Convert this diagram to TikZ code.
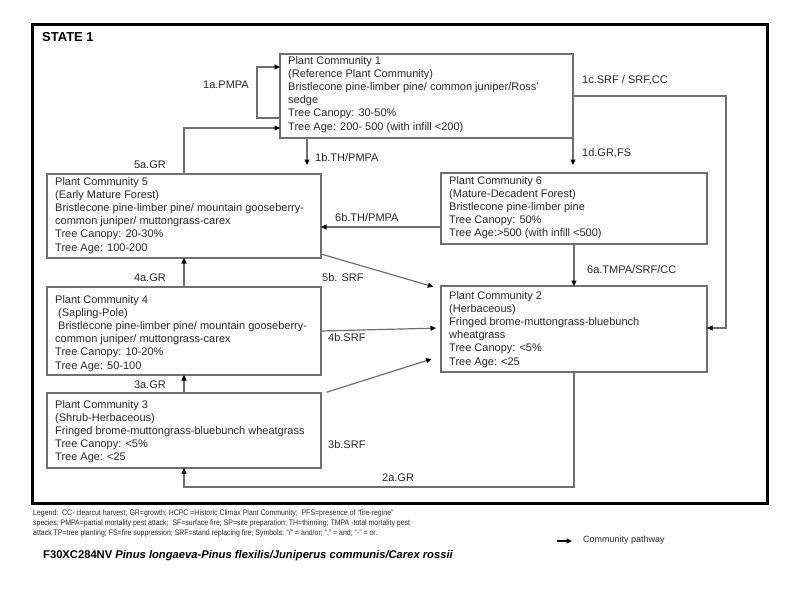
\documentclass[tikz,border=0pt]{standalone}
\usepackage{fontspec}
\setmainfont{Liberation Sans}
\newfontfamily\legendfont[FakeStretch=0.87]{Liberation Sans}
\usetikzlibrary{arrows.meta,calc}
\definecolor{linegray}{RGB}{112,112,112}
\definecolor{textgray}{RGB}{40,40,40}
\newcommand{\boxfont}{\fontsize{11}{13.2}\selectfont}
\tikzset{
  pcbox/.style={draw=linegray, line width=1.2pt, anchor=north west, inner sep=0pt, outer sep=0pt},
  pctext/.style={anchor=north west, align=left, inner sep=0pt, font=\boxfont, text=textgray},
  lbl/.style={inner sep=0pt, font=\boxfont, text=textgray},
  conn/.style={draw=linegray, line width=1.2pt, -{Triangle[length=5.5pt,width=5pt,color=black]}},
  framebox/.style={draw=black, line width=3pt, anchor=north west, inner sep=0pt, outer sep=0pt}
}
\begin{document}
\begin{tikzpicture}[x=1pt,y=-1pt]
\fill[white] (0,0) rectangle (800,600);
\useasboundingbox (0,0) rectangle (800,600);

\node[framebox, minimum width=735pt, minimum height=479pt] (frame) at (32,24) {};
\node[anchor=west, inner sep=0pt, font=\fontsize{13}{15}\selectfont\bfseries] (state) at (42,37) {STATE 1};

% boxes
\node[pcbox, minimum width=293pt, minimum height=84pt] (pc1) at (280,54) {};
\node[pcbox, minimum width=274pt, minimum height=84pt] (pc5) at (47,174) {};
\node[pcbox, minimum width=274pt, minimum height=88pt] (pc4) at (47,287) {};
\node[pcbox, minimum width=274pt, minimum height=75pt] (pc3) at (47,393) {};
\node[pcbox, minimum width=266pt, minimum height=71pt] (pc6) at (441,173) {};
\node[pcbox, minimum width=266pt, minimum height=86pt] (pc2) at (441,286) {};

\node[pctext] (t1) at (288,56) {Plant Community 1\\(Reference Plant Community)\\Bristlecone pine-limber pine/ common juniper/Ross'\\sedge\\Tree Canopy: 30-50\%\\Tree Age: 200- 500 (with infill <200)};
\node[pctext] (t5) at (55,177) {Plant Community 5\\(Early Mature Forest)\\Bristlecone pine-limber pine/ mountain gooseberry-\\common juniper/ muttongrass-carex\\Tree Canopy: 20-30\%\\Tree Age: 100-200};
\node[pctext] (t4) at (55,295) {Plant Community 4\\\hspace*{3pt}(Sapling-Pole)\\\hspace*{3pt}Bristlecone pine-limber pine/ mountain gooseberry-\\common juniper/ muttongrass-carex\\Tree Canopy: 10-20\%\\Tree Age: 50-100};
\node[pctext] (t3) at (55,400) {Plant Community 3\\(Shrub-Herbaceous)\\Fringed brome-muttongrass-bluebunch wheatgrass\\Tree Canopy: <5\%\\Tree Age: <25};
\node[pctext] (t6) at (449,176) {Plant Community 6\\(Mature-Decadent Forest)\\Bristlecone pine-limber pine\\Tree Canopy: 50\%\\Tree Age:>500 (with infill <500)};
\node[pctext] (t2) at (449,291) {Plant Community 2\\(Herbaceous)\\Fringed brome-muttongrass-bluebunch\\wheatgrass\\Tree Canopy: <5\%\\Tree Age: <25};

% helper coordinates
\coordinate (x1a) at (257,0);
\coordinate (y1ain) at (0,67);
\coordinate (y1aout) at (0,118);
\coordinate (y5a) at (0,128);
\coordinate (x1b) at (307,0);
\coordinate (xR) at (726,0);
\coordinate (y1c) at (0,96);
\coordinate (y1cin) at (0,328);
\coordinate (y6b) at (0,227);
\coordinate (y5b) at (0,254);
\coordinate (y5bin) at (0,289);
\coordinate (y4b) at (0,331);
\coordinate (y4bin) at (0,328);
\coordinate (y3bin) at (0,356);
\coordinate (y2a) at (0,487);

% connectors
\draw[conn] (pc1.west |- y1aout) -| (x1a |- y1ain) -- (pc1.west |- y1ain);
\draw[conn] (pc5.north) |- (pc1.west |- y5a);
\draw[conn, shorten >=9pt] (pc1.south -| x1b) -- (pc5.north -| x1b);
\draw[conn] (pc1.east |- y1c) -| (xR |- y1cin) -- (pc2.east |- y1cin);
\draw[conn, shorten >=8pt] (pc1.south east) -- (pc6.north -| pc1.south east);
\draw[conn] (pc6.west |- y6b) -- (pc5.east |- y6b);
\draw[conn, shorten >=8pt] (pc5.east |- y5b) -- (pc2.west |- y5bin);
\draw[conn, shorten >=5pt] (pc4.east |- y4b) -- (pc2.west |- y4bin);
\draw[conn, shorten <=6pt, shorten >=10pt] ($(pc3.north east)+(0,1)$) -- (pc2.west |- y3bin);
\draw[conn] (pc3.north) -- (pc4.south);
\draw[conn] (pc4.north) -- (pc5.south);
\draw[conn] (pc6.south) -- (pc2.north);
\draw[conn] (pc2.south) |- (pc3.south |- y2a) -- (pc3.south);

% labels
\node[lbl, anchor=east] (l1a) at (249,85) {1a.PMPA};
\node[lbl, anchor=east] (l5a) at (166,165) {5a.GR};
\node[lbl, anchor=west] (l1b) at (315,158) {1b.TH/PMPA};
\node[lbl, anchor=west] (l1c) at (582,80) {1c.SRF / SRF,CC};
\node[lbl, anchor=west] (l1d) at (582,153) {1d.GR,FS};
\node[lbl, anchor=west] (l6b) at (335,218) {6b.TH/PMPA};
\node[lbl, anchor=west] (l5b) at (322,278) {5b. SRF};
\node[lbl, anchor=west] (l4b) at (328,338) {4b.SRF};
\node[lbl, anchor=west] (l3b) at (328,445) {3b.SRF};
\node[lbl, anchor=east] (l3a) at (166,385) {3a.GR};
\node[lbl, anchor=east] (l4a) at (166,278) {4a.GR};
\node[lbl, anchor=west] (l6a) at (587,270) {6a.TMPA/SRF/CC};
\node[lbl, anchor=west] (l2a) at (382,478) {2a.GR};

% legend
\node[anchor=north west, align=left, inner sep=0pt, font=\legendfont\fontsize{8}{10.3}\selectfont, text=textgray] (legend) at (33,509)
  {Legend:\ \ CC- clearcut harvest; GR=growth; HCPC =Historic Climax Plant Community;\ \ PFS=presence of “fire-regine”\\
   species; PMPA=partial mortality pest attack;\ \ SF=surface fire; SP=site preparation; TH=thinning; TMPA -total mortality pest\\
   attack TP=tree planting; FS=fire suppression; SRF=stand replacing fire; Symbols: “/” = and/or; “,” = and; “-” = or.};
\coordinate (lgA) at (557,541);
\coordinate (lgB) at (572,541);
\draw[line width=1.2pt, -{Triangle[length=5.5pt,width=5pt]}] (lgA) -- (lgB);
\node[anchor=west, inner sep=0pt, font=\fontsize{9}{11}\selectfont, text=textgray] (pathway) at (583,540) {Community pathway};

\node[anchor=west, inner sep=0pt, font=\fontsize{11.2}{13}\selectfont\bfseries] (title) at (43,556)
  {F30XC284NV \itshape Pinus longaeva-Pinus flexilis/Juniperus communis/Carex rossii};
\end{tikzpicture}
\end{document}
